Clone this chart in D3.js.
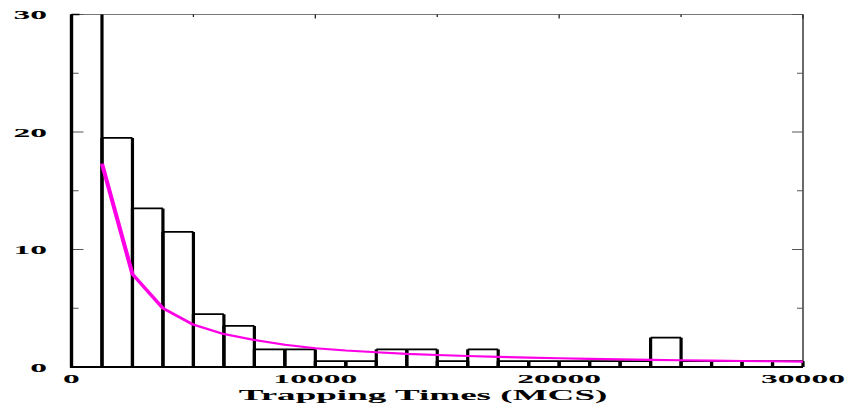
<!DOCTYPE html>
<html><head><meta charset="utf-8">
<script src="https://cdn.jsdelivr.net/npm/d3@7"></script>
<style>body{margin:0;background:#fff}svg{display:block}</style>
</head><body>
<svg id="c" width="854" height="409"></svg>
<script>
// Histogram bins (width 1250 MCS), counts
const binWidth = 1250;
const binStarts = [0,1250,2500,3750,5000,6250,7500,8750,10000,11250,12500,13750,15000,16250,17500,18750,20000,21250,22500,23750,25000,26250,27500,28750];
const counts = [45,19.5,13.5,11.5,4.5,3.5,1.5,1.5,0.5,0.5,1.5,1.5,0.5,1.5,0.5,0.5,0.5,0.5,0.5,2.5,0.5,0.5,0.5,0.5];
// Fitted curve (magenta)
const fitX = [1250,2500,3750,5000,6250,7500,8750,10000,11250,12500,13750,15000,16250,17500,18750,20000,21250,22500,23750,25000,26250,27500,28750,30000];
const fitY = [17.3,7.9,5.0,3.6,2.8,2.3,1.9,1.6,1.4,1.25,1.12,1.02,0.93,0.86,0.80,0.74,0.69,0.65,0.61,0.57,0.54,0.51,0.49,0.46];
const xTicks = [0,10000,20000,30000];
const xMinor = [5000,15000,25000];
const yTicks = [0,10,20,30];
const yMinor = [5,15,25];
const xTitle = "Trapping Times (MCS)";

const L = 71.5, R = 803, T = 14.5, B = 367;
const svg = d3.select("#c");
const x = d3.scaleLinear().domain([0,30000]).range([L,R]);
const y = d3.scaleLinear().domain([0,30]).range([B,T]);
const SX = 2.8;
const font = "'Liberation Serif','Times New Roman',serif";

svg.append("defs").append("clipPath").attr("id","clip")
  .append("rect").attr("x",L-3).attr("y",T).attr("width",R-L+6).attr("height",B-T+2);

// frame: top and right
svg.append("line").attr("x1",L).attr("x2",R).attr("y1",T).attr("y2",T)
  .attr("stroke","#777").attr("stroke-width",1);
svg.append("line").attr("x1",R).attr("x2",R).attr("y1",T).attr("y2",B)
  .attr("stroke","#444").attr("stroke-width",1.6);

// y ticks (left and right, inward)
const tickG = svg.append("g").attr("stroke","#555").attr("stroke-width",1);
yTicks.forEach(v=>{
  tickG.append("line").attr("x1",L).attr("x2",L+12).attr("y1",y(v)).attr("y2",y(v));
  tickG.append("line").attr("x1",R).attr("x2",R-11).attr("y1",y(v)).attr("y2",y(v));
});
yMinor.forEach(v=>{
  tickG.append("line").attr("x1",L).attr("x2",L+7).attr("y1",y(v)).attr("y2",y(v));
  tickG.append("line").attr("x1",R).attr("x2",R-6).attr("y1",y(v)).attr("y2",y(v));
});
// x ticks on top
xTicks.forEach(v=>{
  svg.append("line").attr("x1",x(v)).attr("x2",x(v)).attr("y1",T).attr("y2",T+4)
    .attr("stroke","#222").attr("stroke-width",1.3);
});
xMinor.forEach(v=>{
  svg.append("line").attr("x1",x(v)).attr("x2",x(v)).attr("y1",T).attr("y2",T+2.5)
    .attr("stroke","#222").attr("stroke-width",1.3);
});

// bars
const barG = svg.append("g").attr("clip-path","url(#clip)");
binStarts.forEach((s,i)=>{
  const x0 = x(s), x1 = x(s+binWidth), yt = y(counts[i]);
  barG.append("line").attr("x1",x0).attr("x2",x0).attr("y1",B).attr("y2",yt)
    .attr("stroke","#000").attr("stroke-width",3.2);
  barG.append("line").attr("x1",x1).attr("x2",x1).attr("y1",B).attr("y2",yt)
    .attr("stroke","#000").attr("stroke-width",3.2);
  barG.append("line").attr("x1",x0).attr("x2",x1).attr("y1",yt).attr("y2",yt)
    .attr("stroke","#000").attr("stroke-width",1.8);
});
// left axis and bottom axis
svg.append("line").attr("x1",L).attr("x2",L).attr("y1",T).attr("y2",B+1)
  .attr("stroke","#000").attr("stroke-width",3.2);
svg.append("line").attr("x1",L).attr("x2",R).attr("y1",B).attr("y2",B)
  .attr("stroke","#000").attr("stroke-width",2);
svg.append("line").attr("x1",L).attr("x2",L+8).attr("y1",T).attr("y2",T)
  .attr("stroke","#000").attr("stroke-width",1.5);

// fitted curve, drawn in a horizontally stretched group
const xs = d3.scaleLinear().domain(x.domain()).range([L/2, R/2]);
const lineG = svg.append("g").attr("transform","scale(2,1)");
lineG.append("path")
  .datum(fitX.map((v,i)=>[v,fitY[i]]))
  .attr("d", d3.line().x(d=>xs(d[0])).y(d=>y(d[1])))
  .attr("fill","none").attr("stroke","#ff00e6").attr("stroke-width",2.1)
  .attr("stroke-linejoin","round");

// labels
yTicks.forEach(v=>{
  svg.append("text").attr("transform",`translate(47,${y(v)+4.7}) scale(${SX},1)`)
    .attr("text-anchor","end").attr("font-family",font).attr("font-weight","bold")
    .attr("font-size",12).text(v);
});
xTicks.forEach(v=>{
  svg.append("text").attr("transform",`translate(${x(v)},383) scale(${SX},1)`)
    .attr("text-anchor","middle").attr("font-family",font).attr("font-weight","bold")
    .attr("font-size",12).text(v);
});
svg.append("text").attr("transform",`translate(423,400) scale(2.65,1)`)
  .attr("text-anchor","middle").attr("font-family",font).attr("font-weight","bold")
  .attr("font-size",14).text(xTitle);
</script>
</body></html>
